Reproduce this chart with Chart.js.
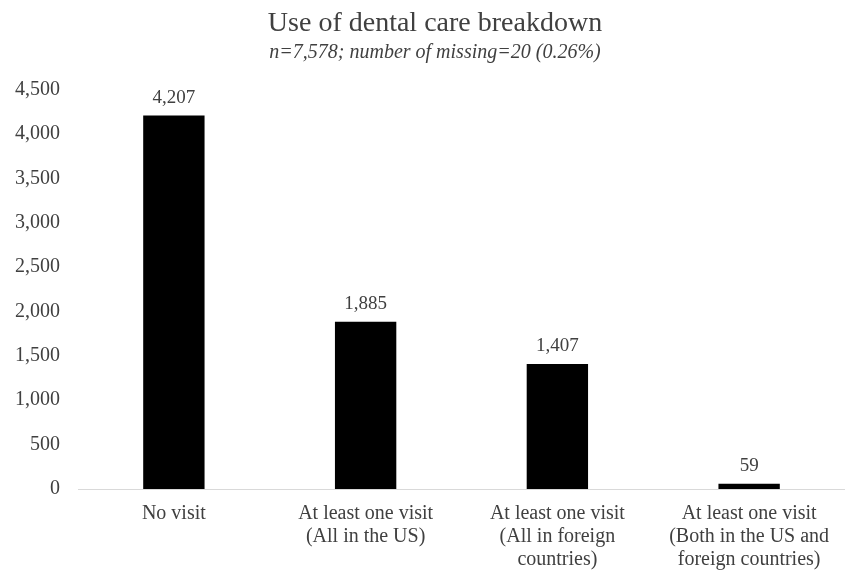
<!DOCTYPE html>
<html>
<head>
<meta charset="utf-8">
<script src="https://cdn.jsdelivr.net/npm/chart.js@4/dist/chart.umd.min.js"></script>
<style>
  html, body { margin: 0; padding: 0; background: #fff; }
  #wrap { width: 845px; height: 573px; }
</style>
</head>
<body>
<div id="wrap"><canvas id="chart"></canvas></div>
<script>
const categories = [
  'No visit',
  ['At least one visit', '(All in the US)'],
  ['At least one visit', '(All in foreign', 'countries)'],
  ['At least one visit', '(Both in the US and', 'foreign countries)']
];
const counts = [4207, 1885, 1407, 59];
const yTicks = [0, 500, 1000, 1500, 2000, 2500, 3000, 3500, 4000, 4500];

const serif = '"Liberation Serif", "Times New Roman", serif';
const textColor = '#404040';

// value labels above bars
const barLabels = {
  id: 'barLabels',
  afterDatasetsDraw(chart) {
    const ctx = chart.ctx;
    const meta = chart.getDatasetMeta(0);
    ctx.save();
    ctx.font = '19px ' + serif;
    ctx.fillStyle = textColor;
    ctx.textAlign = 'center';
    ctx.textBaseline = 'alphabetic';
    meta.data.forEach((bar, i) => {
      ctx.fillText(counts[i].toLocaleString('en-US'), bar.x, bar.y - 13);
    });
    ctx.restore();
  }
};

// nudge title + subtitle a little right, like the original
const titleShift = {
  id: 'titleShift',
  afterLayout(chart) {
    chart.boxes.forEach(b => {
      if (b.position === 'top' && b.options && b.options.text) b.left += 12;
    });
  }
};

new Chart(document.getElementById('chart'), {
  type: 'bar',
  data: {
    labels: categories,
    datasets: [{
      data: counts,
      backgroundColor: '#000',
      barPercentage: 0.64,
      categoryPercentage: 0.5
    }]
  },
  options: {
    responsive: true,
    maintainAspectRatio: false,
    animation: false,
    layout: { padding: { left: 13, right: 0, top: 0, bottom: 0 } },
    plugins: {
      legend: { display: false },
      tooltip: { enabled: false },
      title: {
        display: true,
        text: 'Use of dental care breakdown',
        color: textColor,
        font: { family: serif, size: 28, weight: 'normal' },
        padding: { top: 7, bottom: 0 }
      },
      subtitle: {
        display: true,
        text: 'n=7,578; number of missing=20 (0.26%)',
        color: textColor,
        font: { family: serif, size: 20, style: 'italic' },
        padding: { top: 0, bottom: 25 }
      }
    },
    scales: {
      x: {
        grid: { display: false },
        border: { display: true, color: '#d9d9d9', width: 1 },
        afterFit: axis => { axis.height = 84; },
        ticks: {
          color: textColor,
          font: { family: serif, size: 20, lineHeight: 1.15 },
          maxRotation: 0,
          autoSkip: false,
          padding: 5
        }
      },
      y: {
        min: 0,
        max: 4500,
        afterBuildTicks: axis => { axis.ticks = yTicks.map(v => ({ value: v })); },
        afterFit: axis => { axis.width = 65; },
        grid: { display: false },
        border: { display: false },
        ticks: {
          color: textColor,
          font: { family: serif, size: 20 },
          padding: 10,
          callback: v => v.toLocaleString('en-US')
        }
      }
    }
  },
  plugins: [barLabels, titleShift]
});
</script>
</body>
</html>
